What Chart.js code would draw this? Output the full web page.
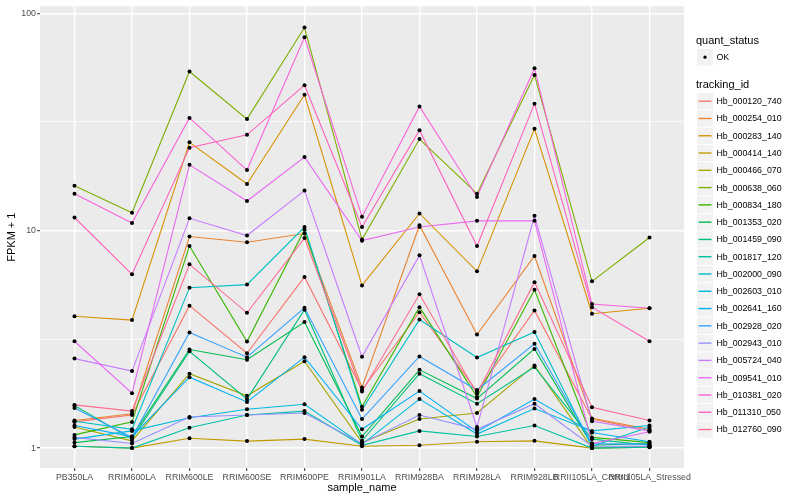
<!DOCTYPE html>
<html>
<head>
<meta charset="utf-8">
<script src="https://cdn.jsdelivr.net/npm/chart.js@4.4.1/dist/chart.umd.min.js"></script>
<style>
html, body { margin: 0; padding: 0; background: #fff; }
</style>
</head>
<body>
<canvas id="chart" width="800" height="500"></canvas>
<script>
// sample names on the x axis
const samples = ["PB350LA", "RRIM600LA", "RRIM600LE", "RRIM600SE", "RRIM600PE", "RRIM901LA",
                 "RRIM928BA", "RRIM928LA", "RRIM928LB", "RRII105LA_Control", "RRII105LA_Stressed"];

const trackingIds = ["Hb_000120_740", "Hb_000254_010", "Hb_000283_140", "Hb_000414_140", "Hb_000466_070",
                     "Hb_000638_060", "Hb_000834_180", "Hb_001353_020", "Hb_001459_090", "Hb_001817_120",
                     "Hb_002000_090", "Hb_002603_010", "Hb_002641_160", "Hb_002928_020", "Hb_002943_010",
                     "Hb_005724_040", "Hb_009541_010", "Hb_010381_020", "Hb_011310_050", "Hb_012760_090"];

// ggplot hue palette for 20 levels
const colors = ["#F8766D", "#EA8331", "#D89000", "#C09B00", "#A3A500", "#7CAE00", "#39B600", "#00BB4E",
                "#00BF7D", "#00C1A3", "#00BFC4", "#00BAE0", "#00B0F6", "#35A2FF", "#9590FF", "#C77CFF",
                "#E76BF3", "#FA62DB", "#FF62BC", "#FF6C91"];

// FPKM + 1 per sample, one array per gene
const hb_000120_740 = [1.32, 1.42, 4.52, 2.73, 6.13, 1.85, 4.22, 1.82, 4.3, 1.36, 1.2];
const hb_000254_010 = [1.34, 1.44, 9.4, 8.85, 9.7, 1.9, 10.6, 3.33, 7.65, 1.37, 1.22];
const hb_000283_140 = [4.04, 3.88, 25.5, 16.4, 42.2, 5.6, 12.0, 6.5, 29.4, 4.15, 4.4];
const hb_000414_140 = [1.02, 1.0, 1.11, 1.077, 1.10, 1.02, 1.03, 1.07, 1.08, 1.0, 1.01];
const hb_000466_070 = [1.25, 1.08, 2.2, 1.74, 2.51, 1.06, 1.36, 1.45, 2.4, 1.0, 1.02];
const hb_000638_060 = [16.1, 12.1, 54, 32.6, 86, 9.1, 26.4, 14.8, 52, 5.85, 9.3];
const hb_000834_180 = [1.15, 1.32, 8.5, 3.09, 10.1, 1.55, 4.45, 1.72, 5.35, 1.12, 1.06];
const hb_001353_020 = [1.06, 1.13, 2.84, 2.55, 3.8, 1.13, 2.29, 1.69, 2.86, 1.03, 1.05];
const hb_001459_090 = [1.57, 1.1, 2.79, 1.68, 4.33, 1.08, 2.2, 1.6, 2.36, 1.1, 1.03];
const hb_001817_120 = [1.02, 1.0, 1.24, 1.42, 1.48, 1.03, 1.2, 1.13, 1.27, 1.0, 1.01];
const hb_002000_090 = [1.33, 1.22, 5.47, 5.65, 10.4, 1.5, 3.9, 2.61, 3.42, 1.02, 1.25];
const hb_002603_010 = [1.1, 1.2, 1.38, 1.51, 1.59, 1.04, 1.68, 1.16, 1.52, 1.2, 1.27];
const hb_002641_160 = [1.27, 1.13, 2.12, 1.63, 2.62, 1.22, 1.83, 1.19, 1.68, 1.18, 1.07];
const hb_002928_020 = [1.53, 1.12, 3.4, 2.62, 4.42, 1.36, 2.64, 1.85, 3.02, 1.05, 1.04];
const hb_002943_010 = [1.12, 1.05, 1.39, 1.42, 1.45, 1.05, 1.42, 1.22, 1.6, 1.02, 1.02];
const hb_005724_040 = [2.58, 2.26, 11.4, 9.5, 15.3, 2.63, 7.7, 1.25, 11.7, 1.33, 1.2];
const hb_009541_010 = [3.1, 1.79, 20.1, 13.7, 21.8, 9.0, 10.4, 11.1, 11.1, 1.05, 1.19];
const hb_010381_020 = [14.8, 10.85, 33, 19, 77.5, 11.6, 37.3, 14.3, 55.9, 4.6, 4.4];
const hb_011310_050 = [11.5, 6.3, 24.1, 27.6, 46.7, 10.4, 29, 8.5, 38.4, 4.45, 3.1];
const hb_012760_090 = [1.58, 1.48, 7.0, 4.19, 9.25, 1.82, 5.1, 1.78, 5.8, 1.54, 1.34];

const seriesValues = [hb_000120_740, hb_000254_010, hb_000283_140, hb_000414_140, hb_000466_070,
                      hb_000638_060, hb_000834_180, hb_001353_020, hb_001459_090, hb_001817_120,
                      hb_002000_090, hb_002603_010, hb_002641_160, hb_002928_020, hb_002943_010,
                      hb_005724_040, hb_009541_010, hb_010381_020, hb_011310_050, hb_012760_090];

const yTicks = [1, 3.1623, 10, 31.623, 100];
const FONT = '"Liberation Sans", Arial, Helvetica, sans-serif';

// line datasets (later genes drawn on top, as ggplot does)
const datasets = seriesValues.map(function(vals, k) {
    return {
        label: trackingIds[k],
        data: vals.map((v, i) => ({x: i, y: v})),
        borderColor: colors[k],
        backgroundColor: colors[k],
        borderWidth: 1.1,
        pointRadius: 0,
        fill: false,
        order: 100 - k
    };
});

// all points in one black layer on top
const okPoints = [];
seriesValues.forEach(vals => vals.forEach((v, i) => okPoints.push({x: i, y: v})));
datasets.push({
    label: 'OK',
    data: okPoints,
    showLine: false,
    pointRadius: 2,
    pointStyle: 'circle',
    pointBackgroundColor: '#000',
    pointBorderWidth: 0,
    order: 0
});

const panelBg = {
    id: 'panelBg',
    beforeDraw(chart) {
        const a = chart.chartArea;
        chart.ctx.save();
        chart.ctx.fillStyle = '#EBEBEB';
        chart.ctx.fillRect(a.left, a.top, a.right - a.left, a.bottom - a.top);
        chart.ctx.restore();
    }
};

const ggLegend = {
    id: 'ggLegend',
    afterDraw(chart) {
        const ctx = chart.ctx;
        ctx.save();
        ctx.textBaseline = 'middle';
        ctx.fillStyle = '#000';
        ctx.font = '11px ' + FONT;
        ctx.fillText('quant_status', 696, 41);
        ctx.fillStyle = '#F2F2F2';
        ctx.fillRect(697, 49, 16, 16.5);
        ctx.fillStyle = '#000';
        ctx.beginPath();
        ctx.arc(705, 57.2, 1.6, 0, Math.PI * 2);
        ctx.fill();
        ctx.font = '8.8px ' + FONT;
        ctx.fillText('OK', 716.5, 57.5);

        ctx.font = '11px ' + FONT;
        ctx.fillText('tracking_id', 696, 84.5);
        ctx.font = '8.8px ' + FONT;
        chart.data.datasets.forEach(function(ds, k) {
            if (ds.label === 'OK') return;
            const cy = 101.2 + k * 17.28;
            ctx.fillStyle = '#F2F2F2';
            ctx.fillRect(697, cy - 8.1, 16, 16.3);
            ctx.strokeStyle = ds.borderColor;
            ctx.lineWidth = 1.4;
            ctx.beginPath();
            ctx.moveTo(698.5, cy);
            ctx.lineTo(711.5, cy);
            ctx.stroke();
            ctx.fillStyle = '#000';
            ctx.fillText(ds.label, 716.5, cy + 0.5);
        });
        ctx.restore();
    }
};

new Chart(document.getElementById('chart').getContext('2d'), {
    type: 'line',
    data: { datasets: datasets },
    plugins: [panelBg, ggLegend],
    options: {
        responsive: false,
        animation: false,
        layout: { padding: { left: 0, top: 5, right: 116, bottom: 0 } },
        plugins: {
            legend: { display: false },
            tooltip: { enabled: false }
        },
        scales: {
            x: {
                type: 'linear',
                min: -0.6,
                max: 10.6,
                afterBuildTicks: function(scale) {
                    scale.ticks = samples.map((s, i) => ({value: i}));
                },
                afterFit: function(scale) { scale.height = 32; },
                border: { display: false },
                grid: {
                    color: '#FFFFFF',
                    lineWidth: 1.4,
                    tickColor: '#333333',
                    tickLength: 3,
                    tickWidth: 1
                },
                ticks: {
                    autoSkip: false,
                    maxRotation: 0,
                    padding: 1,
                    color: '#4D4D4D',
                    font: { family: FONT, size: 8.8 },
                    callback: function(value) { return samples[value]; }
                },
                title: {
                    display: true,
                    text: 'sample_name',
                    color: '#000',
                    font: { family: FONT, size: 11 },
                    padding: { top: 0, bottom: 5 }
                }
            },
            y: {
                type: 'logarithmic',
                min: 0.81,
                max: 107.7,
                afterBuildTicks: function(scale) {
                    scale.ticks = yTicks.map(v => ({value: v}));
                },
                afterFit: function(scale) { scale.width = 40; },
                border: { display: false },
                grid: {
                    color: '#FFFFFF',
                    lineWidth: ctx => (ctx.tick && [1, 10, 100].includes(ctx.tick.value)) ? 1.4 : 0.7,
                    tickColor: ctx => (ctx.tick && [1, 10, 100].includes(ctx.tick.value)) ? '#333333' : 'rgba(0,0,0,0)',
                    tickLength: 3,
                    tickWidth: 1
                },
                ticks: {
                    padding: 1,
                    color: '#4D4D4D',
                    font: { family: FONT, size: 8.8 },
                    callback: function(value) {
                        return [1, 10, 100].includes(value) ? String(value) : '';
                    }
                },
                title: {
                    display: true,
                    text: 'FPKM + 1',
                    color: '#000',
                    font: { family: FONT, size: 11 },
                    padding: { top: 5, bottom: 0 }
                }
            }
        }
    }
});
</script>
</body>
</html>
